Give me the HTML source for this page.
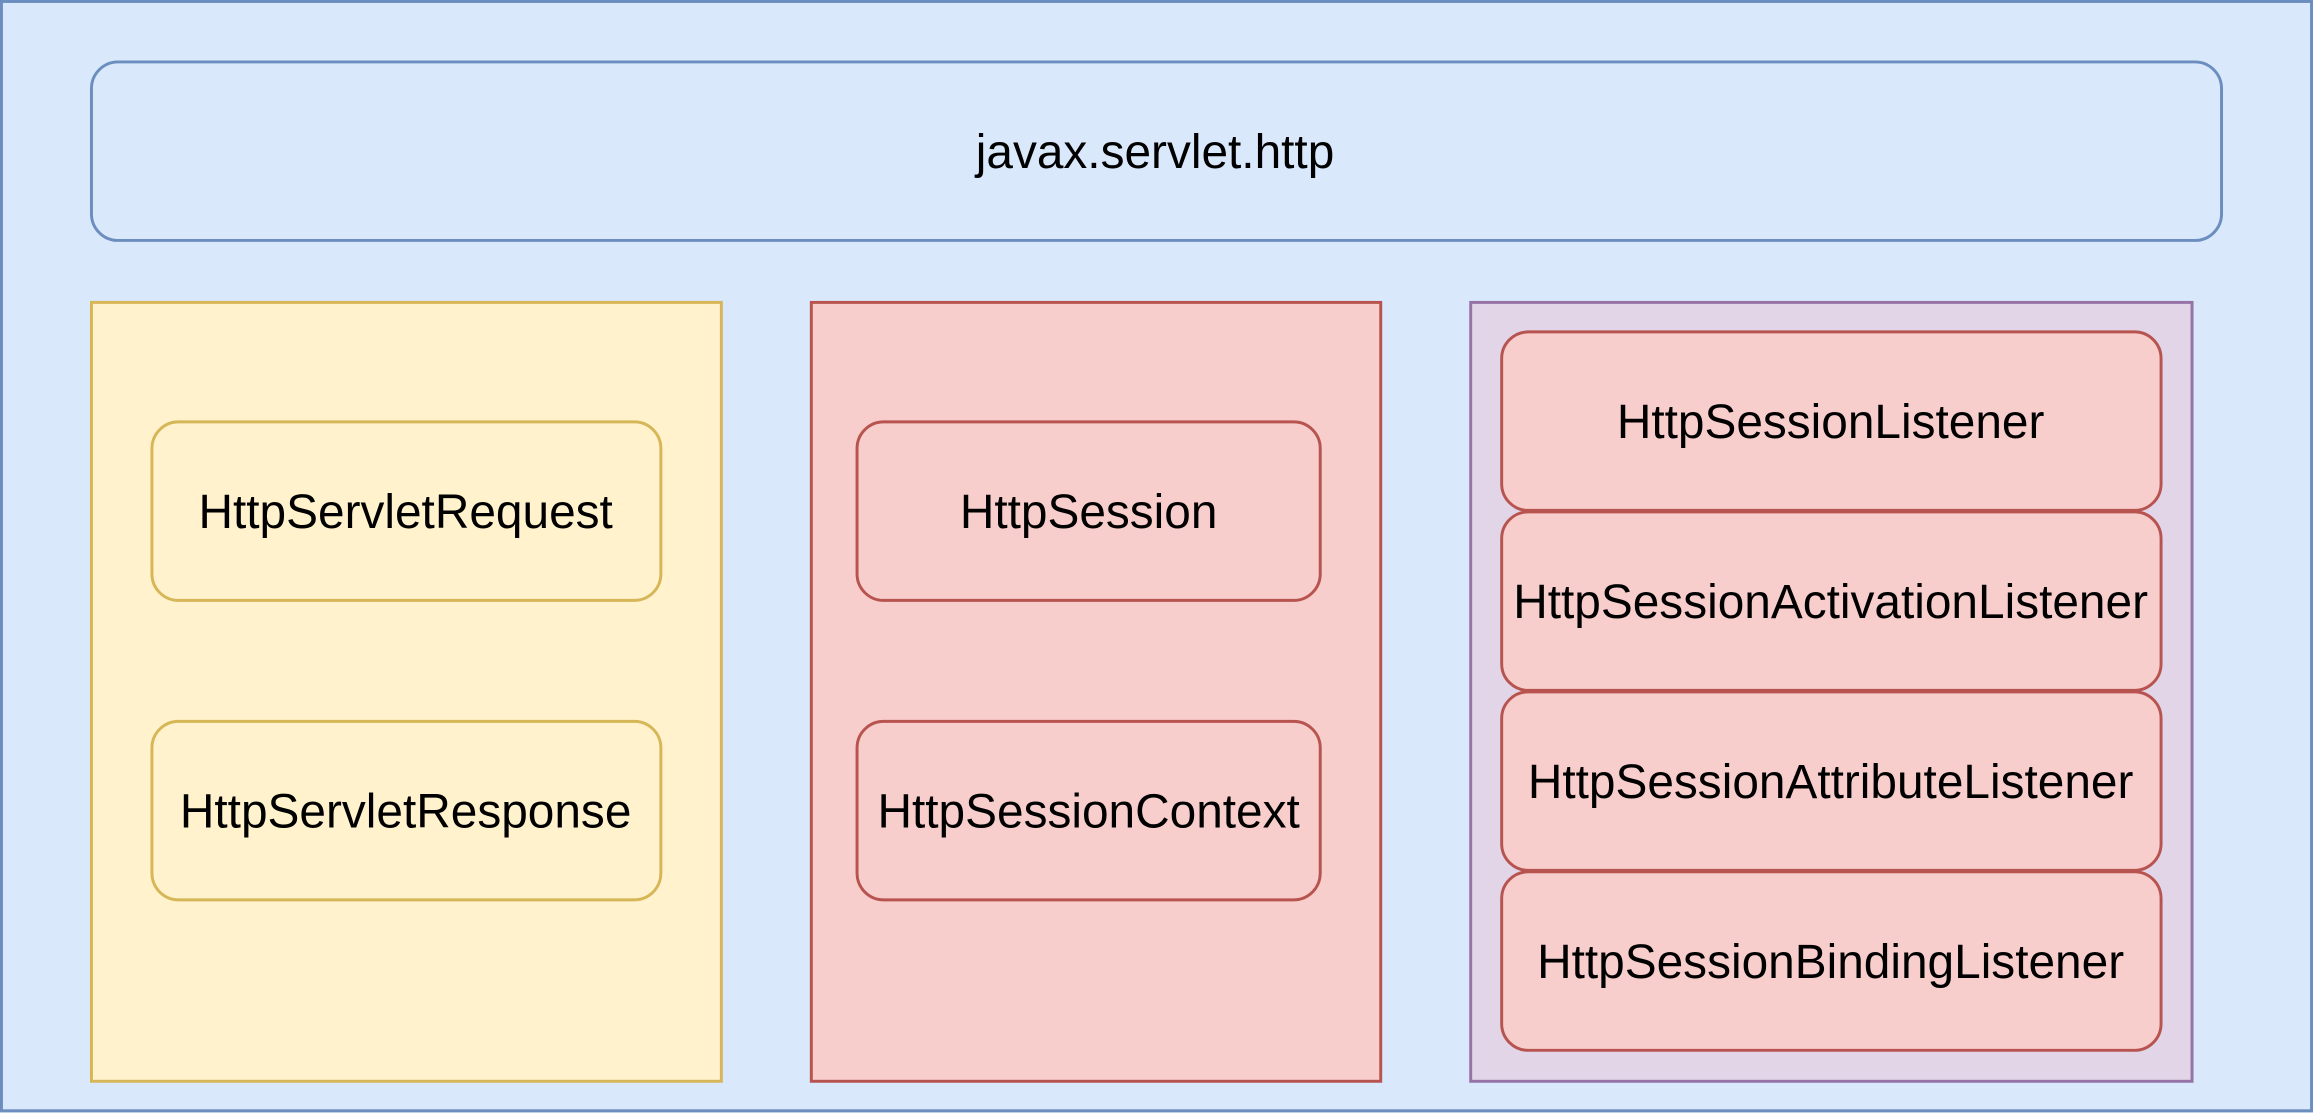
<!DOCTYPE html>
<html><head><style>html,body{margin:0;padding:0;background:#dae8fc;}svg{display:block}</style></head>
<body>
<svg width="2313" height="1113" viewBox="0 0 1568 754.5" preserveAspectRatio="none" xmlns="http://www.w3.org/2000/svg" font-family="Liberation Sans, Arial, sans-serif" font-size="32.4" text-anchor="middle">
<rect x="1" y="1" width="1566" height="752" fill="#dae8fc" stroke="#6c8ebf" stroke-width="2"/>
<rect x="62" y="42" width="1444" height="121" rx="18" fill="#dae8fc" stroke="#6c8ebf" stroke-width="2"/>
<text x="783" y="114">javax.servlet.http</text>
<rect x="62" y="205" width="427" height="528" fill="#fff2cc" stroke="#d6b656" stroke-width="2"/>
<rect x="103" y="286" width="345" height="121" rx="18" fill="#fff2cc" stroke="#d6b656" stroke-width="2"/>
<text x="275" y="358">HttpServletRequest</text>
<rect x="103" y="489" width="345" height="121" rx="18" fill="#fff2cc" stroke="#d6b656" stroke-width="2"/>
<text x="275" y="561">HttpServletResponse</text>
<rect x="550" y="205" width="386" height="528" fill="#f8cecc" stroke="#b85450" stroke-width="2"/>
<rect x="581" y="286" width="314" height="121" rx="18" fill="#f8cecc" stroke="#b85450" stroke-width="2"/>
<text x="738" y="358">HttpSession</text>
<rect x="581" y="489" width="314" height="121" rx="18" fill="#f8cecc" stroke="#b85450" stroke-width="2"/>
<text x="738" y="561">HttpSessionContext</text>
<rect x="997" y="205" width="489" height="528" fill="#e1d5e7" stroke="#9673a6" stroke-width="2"/>
<rect x="1018" y="225" width="447" height="121" rx="18" fill="#f8cecc" stroke="#b85450" stroke-width="2"/>
<text x="1241" y="297">HttpSessionListener</text>
<rect x="1018" y="347" width="447" height="121" rx="18" fill="#f8cecc" stroke="#b85450" stroke-width="2"/>
<text x="1241" y="419">HttpSessionActivationListener</text>
<rect x="1018" y="469" width="447" height="121" rx="18" fill="#f8cecc" stroke="#b85450" stroke-width="2"/>
<text x="1241" y="541">HttpSessionAttributeListener</text>
<rect x="1018" y="591" width="447" height="121" rx="18" fill="#f8cecc" stroke="#b85450" stroke-width="2"/>
<text x="1241" y="663">HttpSessionBindingListener</text>
</svg>
</body></html>
